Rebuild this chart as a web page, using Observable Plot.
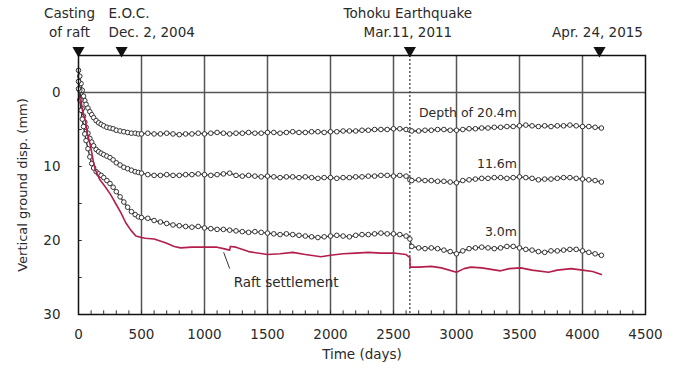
<!DOCTYPE html>
<html><head><meta charset="utf-8">
<script src="https://cdn.jsdelivr.net/npm/d3@7"></script>
<script src="https://cdn.jsdelivr.net/npm/@observablehq/plot@0.6"></script>
<style>body{margin:0;background:#fff} #chart svg{display:block}</style>
</head><body><div id="chart"></div><script>
// ---- data ----
const daysDepth = [
  0,10,20,30,40,50,60,75,90,105,
  120,140,160,180,200,225,250,275,300,330,
  360,390,420,450,475,500,550,600,650,700,
  750,800,850,900,950,1000,1050,1100,1150,1200,
  1250,1300,1350,1400,1450,1500,1550,1600,1650,1700,
  1750,1800,1850,1900,1950,2000,2050,2100,2150,2200,
  2250,2300,2350,2400,2450,2500,2550,2600,2630,2645,
  2700,2750,2800,2850,2900,2950,3000,3050,3100,3150,
  3200,3250,3300,3350,3400,3450,3500,3550,3600,3650,
  3700,3750,3800,3850,3900,3950,4000,4050,4100,4150];
const disp204 = [
  -3,-2.2,-1.2,-0.3,0.5,1.1,1.6,2.1,2.6,3.0,
  3.4,3.8,4.1,4.3,4.5,4.7,4.8,4.9,5.1,5.2,
  5.3,5.4,5.5,5.5,5.6,5.6,5.5,5.6,5.6,5.5,
  5.6,5.7,5.6,5.6,5.5,5.6,5.5,5.4,5.5,5.6,
  5.5,5.5,5.4,5.5,5.5,5.4,5.4,5.5,5.4,5.3,
  5.4,5.4,5.3,5.3,5.4,5.3,5.3,5.2,5.2,5.2,
  5.1,5.1,5.0,5.0,5.0,4.9,4.9,5.0,5.1,5.2,
  5.2,5.1,5.1,5.0,5.0,5.1,5.1,5.0,4.9,4.9,
  4.8,4.8,4.7,4.7,4.6,4.6,4.5,4.4,4.5,4.6,
  4.5,4.6,4.5,4.5,4.4,4.5,4.6,4.6,4.7,4.8];
const disp116 = [
  -1.5,-0.3,1.0,2.2,3.2,4.0,4.7,5.5,6.2,6.7,
  7.2,7.7,8.0,8.2,8.4,8.6,8.8,9.1,9.5,9.8,
  10.1,10.3,10.5,10.7,10.8,10.9,11.1,11.2,11.2,11.1,
  11.2,11.2,11.1,11.1,11.0,11.1,11.2,11.1,11.0,10.9,
  11.2,11.3,11.2,11.3,11.4,11.3,11.4,11.5,11.4,11.4,
  11.5,11.4,11.5,11.6,11.5,11.5,11.6,11.5,11.5,11.4,
  11.4,11.3,11.3,11.2,11.2,11.3,11.2,11.3,11.8,11.9,
  11.8,11.9,11.9,12.0,12.0,12.1,12.2,11.9,11.8,11.7,
  11.6,11.6,11.5,11.5,11.6,11.5,11.4,11.5,11.6,11.8,
  11.7,11.7,11.6,11.5,11.5,11.6,11.7,11.8,11.9,12.1];
const disp30 = [
  -0.5,1.0,2.4,3.6,4.6,5.6,6.5,7.6,8.7,9.6,
  10.2,10.7,11.0,11.2,11.5,11.9,12.3,12.8,13.4,14.1,
  14.8,15.5,16.1,16.5,16.8,16.9,17.0,17.3,17.5,17.7,
  17.9,18.0,18.1,18.2,18.1,18.3,18.4,18.5,18.5,18.6,
  18.7,18.8,18.9,18.8,18.9,19.0,19.1,19.2,19.1,19.2,
  19.3,19.4,19.5,19.6,19.5,19.4,19.3,19.4,19.5,19.3,
  19.2,19.2,19.1,19.0,19.1,19.1,19.2,19.4,19.8,20.8,
  21.0,21.1,21.0,21.1,21.3,21.5,21.8,21.4,21.1,21.0,
  20.9,21.0,21.1,21.0,20.8,20.8,21.0,21.2,21.3,21.5,
  21.6,21.4,21.4,21.3,21.2,21.2,21.4,21.6,21.8,22.0];

const daysRaft = [0,20,40,55,70,95,120,135,170,215,255,295,335,375,415,455,500,530,600,690,760,810,900,1000,1100,1150,1200,1205,1250,1350,1500,1600,1700,1800,1925,2000,2100,2200,2300,2400,2500,2600,2630,2632,2700,2800,2880,3000,3060,3115,3200,3350,3420,3510,3600,3730,3800,3910,4000,4080,4150];
const dispRaft = [0,1.5,3,3.8,5.5,7.2,9.5,10.5,11.8,12.8,13.8,15,16.2,17.6,18.6,19.4,19.6,19.7,19.8,20.3,20.8,21.0,20.9,20.9,20.9,21.1,21.3,20.8,20.9,21.5,21.9,21.8,21.6,21.9,22.2,22.0,21.8,21.7,21.6,21.7,21.7,21.9,22.3,23.6,23.6,23.5,23.7,24.3,23.8,23.6,23.7,24.1,23.8,23.7,24.0,24.3,24.0,23.8,24.0,24.2,24.6];

const xTicks = [0,500,1000,1500,2000,2500,3000,3500,4000,4500];
const xGrid = [500,1000,1500,2000,2500,3000,3500,4000];
const xMinor = d3.range(100, 4500, 100);
const yTicks = [0,10,20,30];
const yMinor = [-5,0,5,10,15,20,25];

const eventDays = [0, 342, 2630, 4135];
const eventLine1 = ["Casting", "E.O.C.", "Tohoku Earthquake", ""];
const eventLine2 = ["of raft", "Dec. 2, 2004", "Mar.11, 2011", "Apr. 24, 2015"];
const eventAnchor = ["middle", "start", "middle", "middle"];
const eventDx = [-9, -13, -2, -2];
const quakeDay = 2630;

const seriesLabels = ["Depth of 20.4m", "11.6m", "3.0m"];
const seriesLabelY = [2.8, 9.6, 18.9];
const seriesLabelX = 3480;

// ---- build ----
const zip = (xs, ys) => xs.map((x, i) => ({day: x, v: ys[i]}));
const s204 = zip(daysDepth, disp204);
const s116 = zip(daysDepth, disp116);
const s30 = zip(daysDepth, disp30);
const sRaft = zip(daysRaft, dispRaft);

const FONT = "'DejaVu Sans', 'Liberation Sans', sans-serif";
const TXT = "#2a2a2a";
const gray = "#333";
const depthMarks = [s204, s116, s30].flatMap(s => [
  Plot.line(s, {x: "day", y: "v", stroke: gray, strokeWidth: 1.3}),
  Plot.dot(s, {x: "day", y: "v", r: 2.3, stroke: gray, strokeWidth: 1, fill: "#fff"})
]);

const eventMarks = eventDays.flatMap((d, i) => [
  Plot.dot([d], {x: v => v, y: () => -5, symbol: "triangle", r: 4.5, fill: "#111", rotate: 180, dy: -5}),
  Plot.text([eventLine1[i]], {x: () => d, y: () => -5, text: t => t, textAnchor: eventAnchor[i], dx: eventDx[i], dy: -42, fill: TXT, fontSize: 13.5}),
  Plot.text([eventLine2[i]], {x: () => d, y: () => -5, text: t => t, textAnchor: eventAnchor[i], dx: eventDx[i], dy: -23, fill: TXT, fontSize: 13.5})
]);

const chart = Plot.plot({
  width: 677, height: 369,
  marginLeft: 78, marginRight: 32, marginTop: 55, marginBottom: 55,
  style: {fontFamily: FONT, fontSize: "13px", color: TXT, background: "#fff"},
  x: {domain: [0, 4500]},
  y: {domain: [-5, 30], reverse: true},
  marks: [
    Plot.ruleX(xGrid, {stroke: "#555", strokeWidth: 1.5}),
    Plot.ruleY([0], {stroke: "#555", strokeWidth: 1.5}),
    Plot.ruleX([quakeDay], {stroke: "#333", strokeWidth: 1.2, strokeDasharray: "2,2"}),
    Plot.ruleX(xMinor, {y1: 30, y2: 29.5, stroke: "#333"}),
    Plot.ruleY(yMinor, {x1: 0, x2: 30, stroke: "#333"}),
    Plot.axisX({ticks: xTicks, tickSize: 0, tickPadding: 15, tickFormat: d => String(d), label: null, fontSize: 13.5}),
    Plot.axisY({ticks: yTicks, tickSize: 0, tickPadding: 18, tickFormat: d => String(d), label: null, fontSize: 13.5}),
    ...depthMarks,
    Plot.line(sRaft, {x: "day", y: "v", stroke: "#b31e4b", strokeWidth: 1.6}),
    Plot.frame({stroke: "#111", strokeWidth: 1.5}),
    ...eventMarks,
    Plot.text(seriesLabels, {x: () => seriesLabelX, y: (d, i) => seriesLabelY[i], text: d => d, textAnchor: "end", fill: TXT, fontSize: 12.5}),
    Plot.link([{x1: 1152, y1: 21.6, x2: 1200, y2: 23.8}], {x1: "x1", y1: "y1", x2: "x2", y2: "y2", stroke: "#333"}),
    Plot.text(["Raft settlement"], {x: () => 1232, y: () => 25.7, text: d => d, textAnchor: "start", fill: TXT, fontSize: 13.5}),
    Plot.text(["Time (days)"], {frameAnchor: "bottom", dy: 44, text: d => d, fill: TXT, fontSize: 13.5}),
    Plot.text(["Vertical ground disp. (mm)"], {frameAnchor: "left", dx: -56, rotate: -90, textAnchor: "middle", text: d => d, fill: TXT, fontSize: 13})
  ]
});
document.getElementById("chart").append(chart);
</script></body></html>
